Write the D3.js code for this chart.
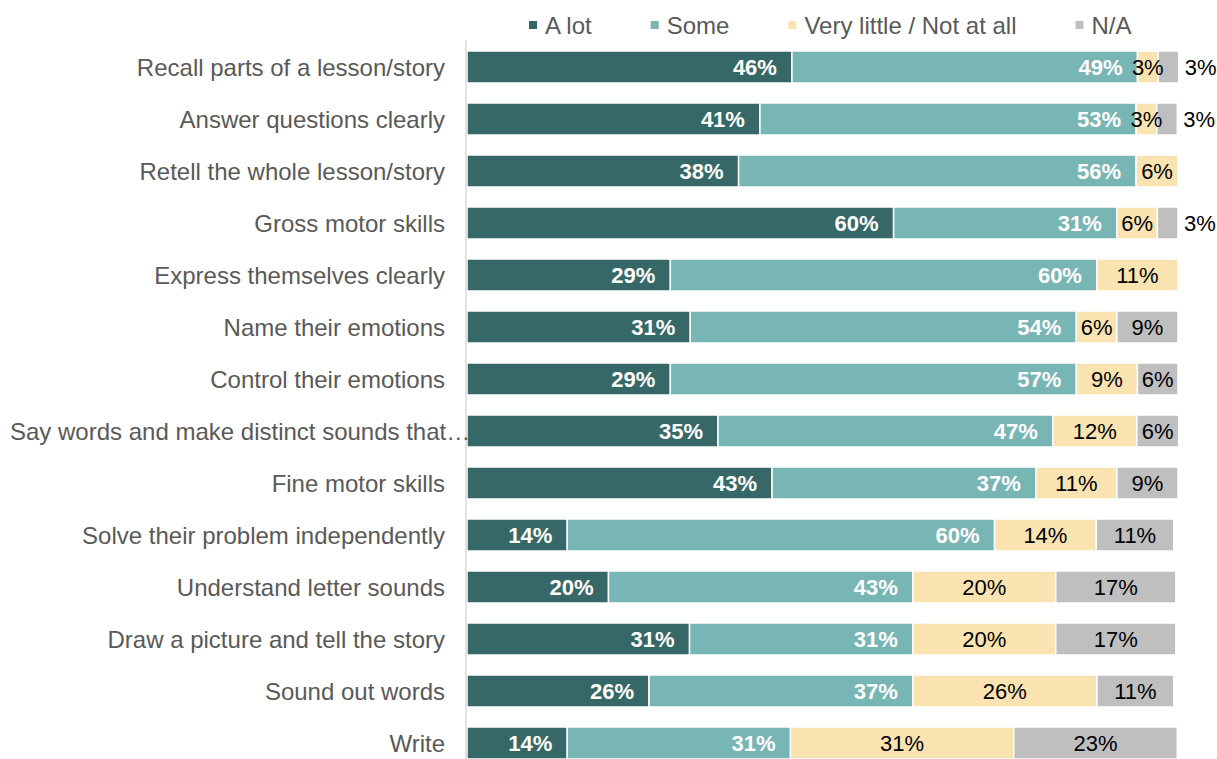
<!DOCTYPE html>
<html>
<head>
<meta charset="utf-8">
<script src="https://cdn.jsdelivr.net/npm/d3@7"></script>
<style>
  body { margin: 0; background: #fff; }
  svg { display: block; }
</style>
</head>
<body>
<div class="chart"></div>
<script>
// categories, top to bottom
const categories = [
  "Recall parts of a lesson/story",
  "Answer questions clearly",
  "Retell the whole lesson/story",
  "Gross motor skills",
  "Express themselves clearly",
  "Name their emotions",
  "Control their emotions",
  "Say words and make distinct sounds that\u2026",
  "Fine motor skills",
  "Solve their problem independently",
  "Understand letter sounds",
  "Draw a picture and tell the story",
  "Sound out words",
  "Write"
];

// percentages per series
const aLot       = [45.7, 41.2, 38.2, 60.0, 28.6, 31.4, 28.6, 35.3, 42.9, 14.1, 19.9, 31.3, 25.6, 14.1];
const some       = [48.6, 52.9, 55.9, 31.4, 60.0, 54.3, 57.1, 47.1, 37.1, 60.1, 42.8, 31.4, 37.1, 31.4];
const veryLittle = [ 2.9,  2.9,  5.9,  5.7, 11.4,  5.7,  8.6, 11.8, 11.4, 14.3, 20.1, 20.1, 25.9, 31.4];
const notApp     = [ 2.9,  2.9,  0,    2.9,  0,    8.6,  5.7,  5.9,  8.6, 10.9, 16.9, 16.9, 10.8, 23.0];

const seriesNames = ["A lot", "Some", "Very little / Not at all", "N/A"];
const seriesKeys = ["aLot", "some", "veryLittle", "notApp"];
const seriesColors = ["#376868", "#78b5b5", "#f8e3b1", "#bfbfbf"];

const width = 1217, height = 759;
const font = "'Liberation Sans', Arial, sans-serif";

const svg = d3.select("div.chart").append("svg")
  .attr("width", width)
  .attr("height", height);

const table = categories.map((c, i) => ({
  category: c,
  aLot: aLot[i],
  some: some[i],
  veryLittle: veryLittle[i],
  notApp: notApp[i]
}));

const stacked = d3.stack().keys(seriesKeys)(table);

const x = d3.scaleLinear().domain([0, 100]).range([467, 1178]);

const y = d3.scaleBand()
  .domain(categories)
  .range([41, 41 + 52 * categories.length])
  .paddingInner(20 / 52)
  .paddingOuter(10 / 52);

const color = d3.scaleOrdinal().domain(seriesKeys).range(seriesColors);
const fmt = v => d3.format(".0f")(v) + "%";

// bars
const layers = svg.append("g").selectAll("g")
  .data(stacked)
  .enter().append("g")
  .attr("fill", d => color(d.key));

layers.selectAll("rect")
  .data(d => d.filter(s => s[1] - s[0] > 0))
  .enter().append("rect")
  .attr("x", d => x(d[0]))
  .attr("y", d => y(d.data.category))
  .attr("width", d => x(d[1]) - x(d[0]))
  .attr("height", y.bandwidth())
  .attr("stroke", "#fff")
  .attr("stroke-width", 1.5);

// vertical axis line
svg.append("line")
  .attr("x1", 466).attr("x2", 466)
  .attr("y1", 40).attr("y2", height)
  .attr("stroke", "#d9d9d9")
  .attr("stroke-width", 1.5);

// data labels
stacked.forEach((layer, li) => {
  const dark = li < 2;
  svg.append("g").selectAll("text")
    .data(layer.filter(s => s[1] - s[0] > 0))
    .enter().append("text")
    .text(d => fmt(d[1] - d[0]))
    .attr("x", d => {
      if (dark) return x(d[1]) - 15;
      if (li === 3 && d[1] - d[0] < 4) return x(d[1]) + 6;
      return (x(d[0]) + x(d[1])) / 2;
    })
    .attr("y", d => y(d.data.category) + y.bandwidth() / 2)
    .attr("dy", "0.36em")
    .attr("text-anchor", d => {
      if (dark) return "end";
      if (li === 3 && d[1] - d[0] < 4) return "start";
      return "middle";
    })
    .attr("font-family", font)
    .attr("font-size", "22px")
    .attr("font-weight", dark ? "bold" : "normal")
    .attr("fill", dark ? "#fff" : "#000");
});

// category labels
svg.append("g").selectAll("text")
  .data(categories)
  .enter().append("text")
  .text(d => d)
  .attr("y", d => y(d) + y.bandwidth() / 2)
  .attr("dy", "0.36em")
  .attr("font-family", font)
  .attr("font-size", "24px")
  .attr("fill", "#595959")
  .attr("x", function() {
    return Math.max(10, 445 - this.getComputedTextLength());
  });

// legend
const legend = svg.append("g");
let lx = 529;
seriesNames.forEach((name, i) => {
  legend.append("rect")
    .attr("x", lx)
    .attr("y", 21)
    .attr("width", 8)
    .attr("height", 8)
    .attr("fill", seriesColors[i]);
  const t = legend.append("text")
    .text(name)
    .attr("x", lx + 16)
    .attr("y", 25)
    .attr("dy", "0.36em")
    .attr("font-family", font)
    .attr("font-size", "24px")
    .attr("fill", "#595959");
  lx += 16 + t.node().getComputedTextLength() + 59;
});
</script>
</body>
</html>
